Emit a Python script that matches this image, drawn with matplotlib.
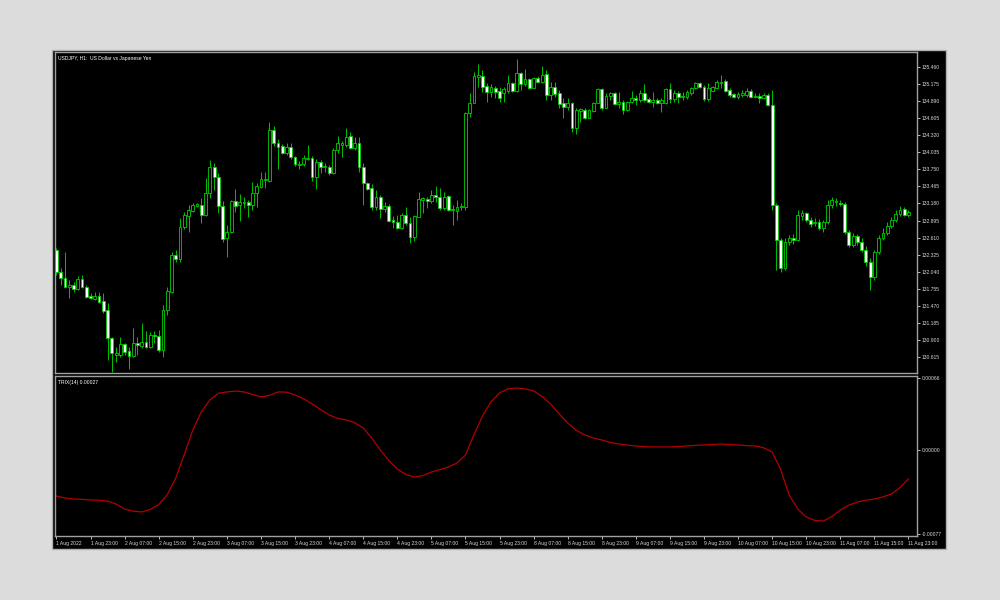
import numpy as np
import matplotlib
matplotlib.use('Agg')
import matplotlib.pyplot as plt
from matplotlib.patches import Rectangle

# USDJPY H1 candles (bar 0 = 1 Aug 15:00)
opens = [132.40, 132.04, 131.94, 131.78, 131.82, 131.75, 131.92, 131.78, 131.63, 131.58,
         131.63, 131.55, 131.40, 130.93, 130.65, 130.65, 130.83, 130.72, 130.63, 130.85,
         130.80, 130.87, 130.78, 130.98, 130.97, 130.73, 131.40, 131.70, 132.32, 132.25,
         132.79, 132.97, 133.05, 133.14, 133.15, 132.99, 133.36, 133.79, 133.62, 133.14,
         132.60, 132.70, 133.22, 133.15, 133.19, 133.20, 133.15, 133.36, 133.46, 133.57,
         133.56, 134.41, 134.19, 134.14, 134.02, 134.12, 133.96, 133.82, 133.84, 133.92,
         133.94, 133.62, 133.87, 133.79, 133.79, 133.69, 134.07, 134.16, 134.16, 134.31,
         134.11, 134.19, 133.79, 133.52, 133.44, 133.12, 133.29, 133.09, 133.14, 132.90,
         132.87, 132.77, 132.99, 132.85, 132.62, 132.95, 133.24, 133.26, 133.22, 133.32,
         133.29, 133.10, 133.30, 133.07, 133.05, 133.12, 133.12, 134.69, 134.86, 135.29,
         135.31, 135.14, 135.04, 135.11, 135.06, 135.02, 135.06, 135.19, 135.06, 135.36,
         135.18, 135.26, 135.11, 135.28, 135.21, 135.34, 134.99, 135.13, 135.03, 134.86,
         134.79, 134.86, 134.44, 134.72, 134.74, 134.61, 134.72, 134.86, 135.09, 134.77,
         134.97, 135.02, 134.84, 134.87, 134.74, 134.87, 134.94, 134.91, 135.02, 134.92,
         134.87, 134.91, 134.86, 134.86, 135.09, 134.92, 135.02, 134.96, 134.96, 135.02,
         135.11, 135.19, 135.13, 134.92, 135.06, 135.11, 135.19, 135.23, 135.08, 135.01,
         134.96, 134.99, 134.99, 135.06, 134.96, 134.97, 134.94, 134.99, 134.82, 133.15,
         132.57, 132.10, 132.54, 132.60, 132.57, 132.97, 133.02, 132.90, 132.85, 132.87,
         132.77, 132.87, 133.15, 133.21, 133.19, 133.17, 132.70, 132.49, 132.64, 132.54,
         132.40, 132.20, 131.95, 132.37, 132.60, 132.69, 132.80, 132.90, 133.00, 133.09,
         132.99]
highs = [132.44, 132.10, 132.37, 131.90, 131.87, 131.97, 131.99, 131.82, 131.68, 131.70,
         131.70, 131.68, 131.52, 130.95, 130.78, 130.95, 130.85, 130.78, 131.10, 130.95,
         131.18, 131.05, 131.03, 131.05, 131.07, 131.48, 131.79, 132.37, 132.40, 132.94,
         133.04, 133.15, 133.19, 133.19, 133.27, 133.61, 133.91, 133.86, 133.69, 133.22,
         132.82, 133.24, 133.42, 133.34, 133.29, 133.24, 133.54, 133.52, 133.71, 133.71,
         134.54, 134.47, 134.26, 134.17, 134.19, 134.19, 133.97, 133.89, 133.99, 134.16,
         133.97, 133.92, 133.91, 133.86, 133.82, 134.11, 134.31, 134.22, 134.44, 134.37,
         134.29, 134.29, 133.86, 133.54, 133.51, 133.41, 133.32, 133.20, 133.17, 132.97,
         132.99, 133.02, 133.12, 132.95, 132.99, 133.37, 133.29, 133.29, 133.41, 133.47,
         133.44, 133.37, 133.32, 133.15, 133.24, 133.19, 134.71, 135.03, 135.38, 135.51,
         135.41, 135.19, 135.18, 135.14, 135.13, 135.13, 135.33, 135.21, 135.59, 135.38,
         135.43, 135.28, 135.29, 135.31, 135.48, 135.41, 135.21, 135.21, 135.08, 134.94,
         134.94, 134.87, 134.77, 134.77, 134.77, 134.76, 134.87, 135.11, 135.11, 135.02,
         135.04, 135.04, 135.04, 134.91, 134.89, 135.06, 134.99, 135.08, 135.18, 134.96,
         135.04, 134.94, 134.94, 135.11, 135.19, 135.08, 135.06, 135.04, 135.08, 135.13,
         135.21, 135.21, 135.16, 135.19, 135.14, 135.24, 135.33, 135.26, 135.11, 135.02,
         135.04, 135.08, 135.11, 135.09, 135.02, 135.02, 135.02, 135.02, 135.08, 133.19,
         132.60, 132.60, 132.65, 132.67, 133.07, 133.07, 133.04, 132.95, 132.94, 132.92,
         132.90, 133.24, 133.29, 133.27, 133.24, 133.20, 132.74, 132.69, 132.67, 132.60,
         132.47, 132.27, 132.40, 132.65, 132.77, 132.87, 132.95, 133.07, 133.14, 133.12,
         133.07]
lows = [131.98, 131.82, 131.77, 131.60, 131.70, 131.73, 131.77, 131.60, 131.58, 131.57,
        131.52, 131.35, 130.57, 130.36, 130.53, 130.62, 130.65, 130.41, 130.62, 130.65,
        130.77, 130.77, 130.77, 130.85, 130.70, 130.62, 131.32, 131.69, 132.20, 132.20,
        132.75, 132.70, 133.04, 133.12, 132.85, 132.97, 133.27, 133.41, 133.02, 132.54,
        132.29, 132.69, 133.04, 132.89, 133.10, 132.95, 133.07, 133.12, 133.44, 133.44,
        133.54, 134.14, 133.76, 134.01, 133.99, 133.92, 133.81, 133.76, 133.81, 133.91,
        133.56, 133.42, 133.69, 133.71, 133.66, 133.67, 134.02, 133.96, 134.12, 134.09,
        134.07, 133.71, 133.15, 133.41, 133.07, 133.07, 132.94, 133.04, 132.87, 132.77,
        132.75, 132.75, 132.82, 132.52, 132.55, 132.95, 133.02, 133.10, 133.19, 133.20,
        133.07, 133.07, 133.05, 132.82, 132.90, 133.07, 133.07, 134.62, 134.86, 135.13,
        135.04, 134.87, 134.96, 134.94, 134.87, 134.87, 135.02, 135.04, 135.04, 135.08,
        135.14, 135.09, 135.11, 135.21, 135.19, 134.91, 134.91, 134.96, 134.77, 134.61,
        134.74, 134.37, 134.34, 134.54, 134.59, 134.61, 134.71, 134.86, 134.74, 134.77,
        134.91, 134.82, 134.77, 134.67, 134.72, 134.86, 134.82, 134.87, 134.87, 134.86,
        134.79, 134.84, 134.71, 134.84, 134.86, 134.87, 134.86, 134.91, 134.92, 134.99,
        135.09, 135.11, 134.89, 134.89, 135.06, 135.09, 135.11, 135.04, 134.96, 134.94,
        134.92, 134.96, 134.96, 134.94, 134.94, 134.86, 134.92, 134.81, 133.07, 132.07,
        132.04, 132.07, 132.49, 132.50, 132.55, 132.90, 132.87, 132.79, 132.80, 132.74,
        132.70, 132.84, 133.10, 133.14, 133.14, 132.67, 132.45, 132.45, 132.49, 132.37,
        132.14, 131.73, 131.90, 132.34, 132.57, 132.65, 132.77, 132.87, 132.97, 132.97,
        132.95]
closes = [132.04, 131.94, 131.78, 131.82, 131.75, 131.92, 131.78, 131.62, 131.60, 131.63,
          131.53, 131.38, 130.93, 130.68, 130.68, 130.83, 130.70, 130.63, 130.85, 130.82,
          130.87, 130.78, 130.98, 130.97, 130.73, 131.40, 131.72, 132.32, 132.25, 132.79,
          132.99, 133.07, 133.15, 133.17, 132.99, 133.36, 133.79, 133.62, 133.14, 132.59,
          132.70, 133.22, 133.14, 133.20, 133.20, 133.15, 133.36, 133.47, 133.59, 133.59,
          134.41, 134.19, 134.12, 134.02, 134.12, 133.96, 133.84, 133.84, 133.94, 133.94,
          133.62, 133.87, 133.79, 133.81, 133.69, 134.07, 134.19, 134.19, 134.29, 134.11,
          134.19, 133.79, 133.52, 133.42, 133.12, 133.29, 133.09, 133.14, 132.89, 132.87,
          132.77, 132.99, 132.85, 132.62, 132.97, 133.26, 133.27, 133.22, 133.32, 133.29,
          133.10, 133.29, 133.07, 133.09, 133.12, 133.14, 134.69, 134.86, 135.31, 135.33,
          135.13, 135.04, 135.13, 135.04, 134.94, 135.09, 135.19, 135.06, 135.36, 135.18,
          135.26, 135.11, 135.28, 135.21, 135.33, 134.99, 135.13, 135.01, 134.84, 134.79,
          134.86, 134.44, 134.74, 134.76, 134.61, 134.74, 134.86, 135.09, 134.77, 134.97,
          135.02, 134.84, 134.87, 134.74, 134.87, 134.94, 134.91, 135.02, 134.91, 134.87,
          134.91, 134.86, 134.91, 135.09, 134.92, 135.02, 134.96, 134.97, 135.04, 135.11,
          135.19, 135.13, 134.92, 135.11, 135.13, 135.21, 135.21, 135.06, 134.99, 134.96,
          135.01, 135.02, 135.06, 134.96, 134.97, 134.94, 134.99, 134.82, 133.15, 132.57,
          132.10, 132.54, 132.60, 132.57, 132.99, 133.02, 132.90, 132.84, 132.87, 132.77,
          132.87, 133.15, 133.24, 133.22, 133.17, 132.70, 132.49, 132.64, 132.54, 132.40,
          132.20, 131.95, 132.37, 132.60, 132.69, 132.80, 132.90, 133.00, 133.07, 132.99,
          133.04]

# TRIX(14) read every 2 bars
trix_bars = list(range(0, 201, 2))
trix_vals = [-0.000422, -0.000440, -0.000449, -0.000452, -0.000458, -0.000460, -0.000468,
             -0.000495, -0.000541, -0.000560, -0.000568, -0.000545, -0.000500, -0.000410,
             -0.000257, -0.000040, 0.000183, 0.000350, 0.000458, 0.000520, 0.000532,
             0.000540, 0.000532, 0.000510, 0.000486, 0.000500, 0.000532, 0.000530,
             0.000504, 0.000470, 0.000422, 0.000370, 0.000321, 0.000290, 0.000275,
             0.000250, 0.000202, 0.000110, 0.000000, -0.000095, -0.000174, -0.000225,
             -0.000248, -0.000235, -0.000202, -0.000180, -0.000156, -0.000120, -0.000046,
             0.000140, 0.000312, 0.000440, 0.000523, 0.000560, 0.000568, 0.000560,
             0.000541, 0.000490, 0.000422, 0.000330, 0.000248, 0.000180, 0.000138,
             0.000110, 0.000092, 0.000070, 0.000055, 0.000045, 0.000037, 0.000030,
             0.000028, 0.000028, 0.000028, 0.000032, 0.000037, 0.000042, 0.000046,
             0.000050, 0.000055, 0.000050, 0.000046, 0.000040, 0.000037, 0.000020,
             -0.000018, -0.000180, -0.000413, -0.000540, -0.000614, -0.000645, -0.000651,
             -0.000610, -0.000550, -0.000505, -0.000477, -0.000460, -0.000449, -0.000430,
             -0.000403, -0.000345, -0.000266]

price_ticks = [130.615, 130.900, 131.185, 131.470, 131.755, 132.040, 132.325, 132.610,
               132.895, 133.180, 133.465, 133.750, 134.035, 134.320, 134.605, 134.890,
               135.175, 135.460]
trix_ticks = [-0.00077, 0.0, 0.00066]
time_labels = ['1 Aug 2022', '1 Aug 23:00', '2 Aug 07:00', '2 Aug 15:00', '2 Aug 23:00',
               '3 Aug 07:00', '3 Aug 15:00', '3 Aug 23:00', '4 Aug 07:00', '4 Aug 15:00',
               '4 Aug 23:00', '5 Aug 07:00', '5 Aug 15:00', '5 Aug 23:00', '8 Aug 07:00',
               '8 Aug 15:00', '8 Aug 23:00', '9 Aug 07:00', '9 Aug 15:00', '9 Aug 23:00',
               '10 Aug 07:00', '10 Aug 15:00', '10 Aug 23:00', '11 Aug 07:00', '11 Aug 15:00',
               '11 Aug 23:00']

GREEN = '#00d000'
GRID = '#a0a0a0'
TXT = '#d8d8d8'
FONT = 'Liberation Sans'
FS = 3.6

W, H = 1000, 600
fig = plt.figure(figsize=(10, 6), dpi=100)
fig.patch.set_facecolor('#dcdcdc')
frame = Rectangle((52 / W, 1 - 549 / H), (946 - 52) / W, (549 - 50) / H,
                  transform=fig.transFigure, facecolor='black',
                  edgecolor='#b0b0b0', lw=1, zorder=-10)
fig.add_artist(frame)

ax = fig.add_axes([55 / W, 1 - 373 / H, (917 - 55) / W, (373 - 52) / H])
ax2 = fig.add_axes([55 / W, 1 - 536 / H, (917 - 55) / W, (536 - 376) / H], sharex=ax)

o = np.array(opens)
hi = np.array(highs)
lo = np.array(lows)
c = np.array(closes)
x = np.arange(len(c))
bull = c >= o

ax.vlines(x, lo, hi, color=GREEN, lw=0.65, zorder=2)
body = np.maximum(np.abs(c - o), 0.004)
ax.bar(x, body, bottom=np.minimum(o, c), width=0.66,
       color=np.where(bull, 'black', 'white'), edgecolor=GREEN, lw=0.6, zorder=3)

ax2.plot(trix_bars, trix_vals, color='#b40000', lw=0.9)

for a in (ax, ax2):
    a.set_facecolor('black')
    for s in a.spines.values():
        s.set_color(GRID)
        s.set_linewidth(1.0)
    a.yaxis.tick_right()
    a.tick_params(axis='y', colors=TXT, labelsize=FS, length=2, width=0.6, pad=1.5)

ax.set_xlim(-0.35, 202)
ax.set_ylim(130.348, 135.710)
ax.set_yticks(price_ticks)
ax.set_yticklabels(['%.3f' % v for v in price_ticks], fontfamily=FONT)
ax.tick_params(axis='x', bottom=False, labelbottom=False)

ax2.set_ylim(-0.000788, 0.000678)
ax2.set_yticks(trix_ticks)
ax2.set_yticklabels(['%.5f' % v for v in trix_ticks], fontfamily=FONT)
ax2.set_xticks(range(0, 201, 8))
ax2.set_xticklabels(time_labels, fontfamily=FONT, ha='left')
ax2.tick_params(axis='x', colors=TXT, labelsize=FS, length=2, width=0.6, pad=1.5)

ax.text(0.003, 0.988, 'USDJPY, H1:  US Dollar vs Japanese Yen', transform=ax.transAxes,
        color='white', fontsize=FS, va='top', fontfamily=FONT)
ax2.text(0.003, 0.975, 'TRIX(14) 0.00027', transform=ax2.transAxes,
         color='white', fontsize=FS, va='top', fontfamily=FONT)

fig.savefig('out.png', dpi=100, facecolor=fig.get_facecolor())
